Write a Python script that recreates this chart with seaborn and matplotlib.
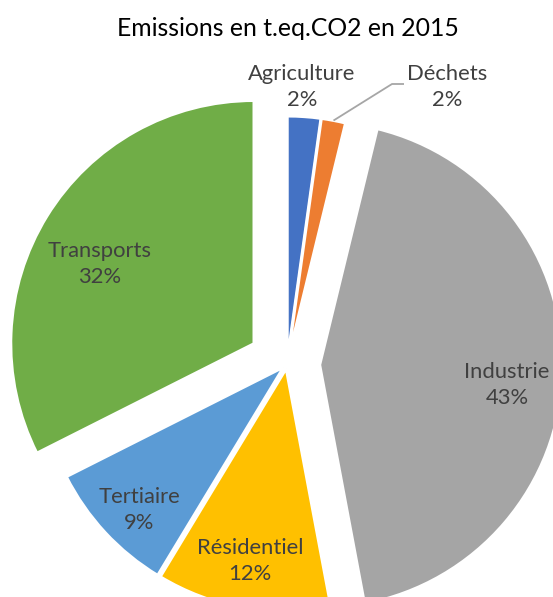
import numpy as np
import matplotlib
matplotlib.use('Agg')
import matplotlib.pyplot as plt
import seaborn as sns

# shares of emissions (%)
sectors = ['Agriculture', 'Déchets', 'Industrie', 'Résidentiel', 'Tertiaire', 'Transports']
shares = [2.2, 1.6, 43.2, 11.6, 8.9, 32.4]
colors = ['#4472C4', '#ED7D31', '#A5A5A5', '#FFC000', '#5B9BD5', '#70AD47']
explode = [0.02, 0.02, 0.135, 0.02, 0.02, 0.16]

title = 'Emissions en t.eq.CO2 en 2015'

sns.set_theme(style='white')
plt.rcParams['font.family'] = ['Lato', 'DejaVu Sans']

W, H = 553, 597
CX, CY, R = 287, 364, 243   # pie centre and radius in pixels


def px2data(px, py):
    return (px - CX) / R, (CY - py) / R


# label centres in pixels (layout only)
label_px = {
    'Agriculture': (302, 87),
    'Déchets': (447, 87),
    'Industrie': (507, 385),
    'Résidentiel': (250, 561),
    'Tertiaire': (139, 510),
    'Transports': (100, 264),
}

fig = plt.figure(figsize=(W / 100, H / 100), dpi=100, facecolor='white')
ax = fig.add_axes([0, 0, 1, 1])
ax.set_axis_off()

wedges, _ = ax.pie(shares, colors=colors, explode=explode, startangle=90,
                   counterclock=False, radius=1,
                   wedgeprops=dict(edgecolor='white', linewidth=2))

ax.set_xlim(px2data(0, 0)[0], px2data(W, 0)[0])
ax.set_ylim(px2data(0, H)[1], px2data(0, 0)[1])
ax.set_aspect('equal')

total = sum(shares)
for name, val in zip(sectors, shares):
    x, y = px2data(*label_px[name])
    ax.text(x, y, f'{name}\n{val / total * 100:.0f}%', ha='center', va='center',
            fontsize=15.8, color='#404040', linespacing=1.38)

# leader line for Déchets
w = wedges[1]
mid = np.deg2rad((w.theta1 + w.theta2) / 2)
sx = w.center[0] + w.r * np.cos(mid)
sy = w.center[1] + w.r * np.sin(mid)
ex, ey = px2data(392, 84)
fx, fy = px2data(404, 84)
ax.plot([sx, ex, fx], [sy, ey, fy], color='#A6A6A6', lw=1.3, solid_capstyle='butt')

tx, ty = px2data(288, 29)
ax.text(tx, ty, title, ha='center', va='center', fontsize=17.8, color='black')

fig.savefig('out.png', dpi=100, facecolor='white')
